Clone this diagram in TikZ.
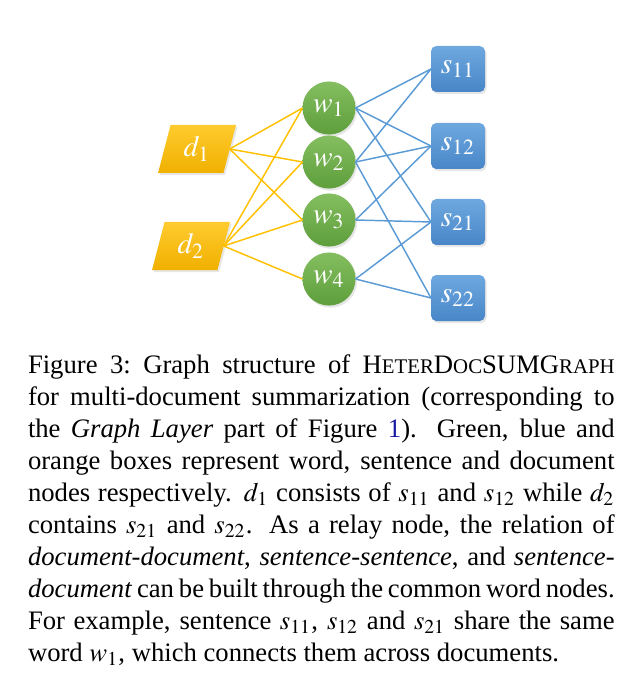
\documentclass[tikz,border=0pt]{standalone}
\usepackage{mathptmx}
\usepackage{fontspec}
\setmainfont{Liberation Serif}
\usepackage{tikz}
\usetikzlibrary{arrows.meta, positioning, shapes.geometric, shadows}
\definecolor{docyellow}{HTML}{FFC000}
\definecolor{doctop}{HTML}{FFCB2E}
\definecolor{docbot}{HTML}{F0B000}
\definecolor{wordtop}{HTML}{84BE60}
\definecolor{wordbot}{HTML}{5E9E3B}
\definecolor{sentblue}{HTML}{5B9BD5}
\definecolor{senttop}{HTML}{6EA8DF}
\definecolor{sentbot}{HTML}{4886C8}
\definecolor{linkblue}{HTML}{1A1AA6}
\newcommand{\smc}[1]{{\fontsize{7.8pt}{12pt}\selectfont #1}}

\begin{document}
\begin{tikzpicture}[
        x=0.375pt, y=-0.375pt,
        every node/.style={outer sep=0pt},
        lbl/.style={text=white, font=\fontsize{11pt}{12pt}\selectfont},
        % documents: parallelogram, sentences: rounded box, words: circle
        docnode/.style={lbl, trapezium, trapezium left angle=76,
                         trapezium right angle=104, trapezium stretches=true,
                         minimum width=29.25pt, minimum height=18pt,
                         top color=doctop, bottom color=docbot,
                         drop shadow={opacity=0.2, shadow xshift=0.6pt, shadow yshift=-0.8pt}},
        wordnode/.style={lbl, circle, minimum size=19.9pt, inner sep=0pt,
                         top color=wordtop, bottom color=wordbot,
                         drop shadow={opacity=0.2, shadow xshift=0.6pt, shadow yshift=-0.8pt}},
        sentnode/.style={lbl, rectangle, rounded corners=2pt,
                         minimum width=20.25pt, minimum height=17.25pt,
                         top color=senttop, bottom color=sentbot,
                         drop shadow={opacity=0.2, shadow xshift=0.6pt, shadow yshift=-0.8pt}},
        dwedge/.style={draw=docyellow, line width=0.55pt},
        wsedge/.style={draw=sentblue, line width=0.55pt},
        caption/.style={anchor=north west, inner sep=0pt, text width=220pt,
                        align=justify, font=\fontsize{10pt}{12pt}\selectfont}
    ]
        \useasboundingbox (0,0) rectangle (628,673);

        \node[docnode] (d1) at (197,149) {$d_1$};
        \node[docnode] (d2) at (191,246) {$d_2$};

        \node[wordnode] (w1) at (329,108) {$w_1$};
        \node[wordnode] (w2) at (329,162) {$w_2$};
        \node[wordnode] (w3) at (329,220) {$w_3$};
        \node[wordnode] (w4) at (329,279) {$w_4$};

        \node[sentnode] (s11) at (458,69)  {$s_{11}$};
        \node[sentnode] (s12) at (458,146) {$s_{12}$};
        \node[sentnode] (s21) at (458,222) {$s_{21}$};
        \node[sentnode] (s22) at (458,298) {$s_{22}$};

        \begin{scope}[on background layer/.try]
        \foreach \w in {w1,w2,w3} \draw[dwedge] (d1.east) -- (\w.west);
        \foreach \w in {w1,w2,w3,w4} \draw[dwedge] (d2.east) -- (\w.west);

        \foreach \s in {s11,s12,s21} \draw[wsedge] (w1.east) -- (\s.west);
        \foreach \s in {s11,s12,s22} \draw[wsedge] (w2.east) -- (\s.west);
        \foreach \s in {s12,s21} \draw[wsedge] (w3.east) -- (\s.west);
        \foreach \s in {s21,s22} \draw[wsedge] (w4.east) -- (\s.west);
        \end{scope}

        \node[caption] (cap) at (28,355) {%
            Figure 3:\ Graph structure of H\smc{ETER}D\smc{OC}SUMG\smc{RAPH}\linebreak
            for multi-document summarization (corresponding to\linebreak
            the \textit{Graph Layer} part of Figure \textcolor{linkblue}{1}).  Green, blue and\linebreak
            orange boxes represent word, sentence and document\linebreak
            nodes respectively. $d_1$ consists of $s_{11}$ and $s_{12}$ while $d_2$\linebreak
            contains $s_{21}$ and $s_{22}$.  As a relay node, the relation of\linebreak
            \textit{document-document}, \textit{sentence-sentence}, and \textit{sentence-\linebreak
            document} can be built through the common word nodes.\linebreak
            For example, sentence $s_{11}$, $s_{12}$ and $s_{21}$ share the same\linebreak
            word $w_1$, which connects them across documents.};
    \end{tikzpicture}
\end{document}
